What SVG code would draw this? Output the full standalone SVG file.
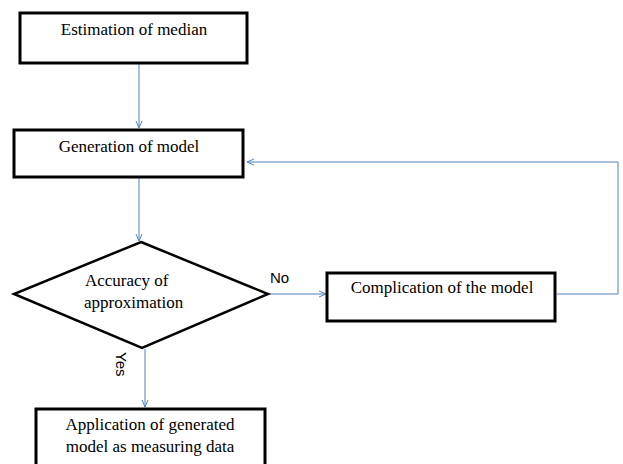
<svg xmlns="http://www.w3.org/2000/svg" width="623" height="464" viewBox="0 0 623 464">
<style>
.box{fill:#fff;stroke:#000;stroke-width:3}
.dia{fill:#fff;stroke:#000;stroke-width:2.5;stroke-linejoin:miter}
.t{font-family:"Liberation Serif","Times New Roman",serif;font-size:17px;fill:#000}
.s{font-family:"Liberation Sans",Arial,sans-serif;font-size:15px;fill:#000}
.c{fill:none;stroke:#4F81BD;stroke-width:1}
</style>
<defs>
<marker id="ah" viewBox="0 0 8 8" refX="8" refY="4" markerWidth="8" markerHeight="8" markerUnits="userSpaceOnUse" orient="auto">
<path d="M1,1 L8,4 L1,7" fill="none" stroke="#4F81BD" stroke-width="1"/>
</marker>
</defs>
<rect width="623" height="464" fill="#fff"/>
<g id="connectors">
<line class="c" x1="139" y1="64" x2="139" y2="128" marker-end="url(#ah)"/>
<line class="c" x1="139" y1="178" x2="139" y2="241" marker-end="url(#ah)"/>
<line class="c" x1="269" y1="294" x2="326" y2="294" marker-end="url(#ah)"/>
<polyline class="c" points="557,294 618,294 618,162 247,162" marker-end="url(#ah)"/>
<line class="c" x1="145" y1="349" x2="145" y2="407" marker-end="url(#ah)"/>
<text class="s" x="270" y="283">No</text>
<text class="s" transform="translate(116,352) rotate(90)">Yes</text>
</g>
<g id="n1">
<rect class="box" x="20" y="13" width="227" height="50"/>
<text class="t" x="134" y="35" text-anchor="middle">Estimation of median</text>
</g>
<g id="n2">
<rect class="box" x="14" y="130" width="229" height="47"/>
<text class="t" x="129" y="152" text-anchor="middle">Generation of model</text>
</g>
<g id="n3">
<polygon class="dia" points="141,242 268,294 142,348 14,294"/>
<text class="t" x="85" y="286">Accuracy of</text>
<text class="t" x="84" y="308">approximation</text>
</g>
<g id="n4">
<rect class="box" x="327" y="273" width="228" height="48"/>
<text class="t" x="442" y="293" text-anchor="middle">Complication of the model</text>
</g>
<g id="n5">
<rect class="box" x="36" y="409" width="229" height="70"/>
<text class="t" x="150" y="430" text-anchor="middle">Application of generated</text>
<text class="t" x="150" y="452" text-anchor="middle">model as measuring data</text>
</g>
</svg>
